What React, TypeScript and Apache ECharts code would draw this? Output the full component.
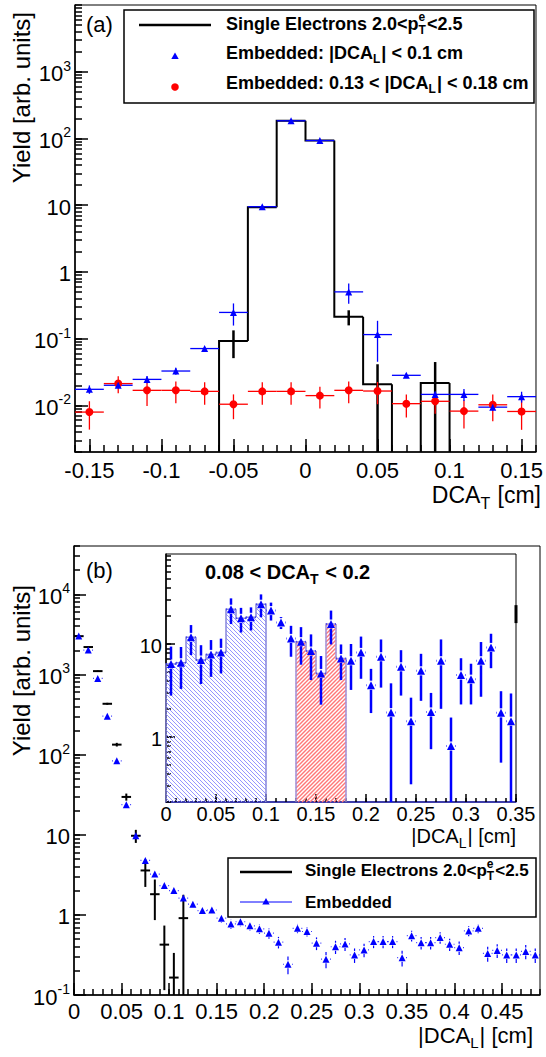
import React, { useEffect, useRef } from "react";
import * as echarts from "echarts";

const FONT = "'Liberation Sans', Arial, Helvetica, sans-serif";

// ---------------- Panel (a): DCA_T ----------------
const aBins = [-0.15, -0.13, -0.11, -0.09, -0.07, -0.05, -0.03, -0.01, 0.01, 0.03, 0.05, 0.07, 0.09, 0.11, 0.13, 0.15];
const aHalfWidth = 0.01;
const aSingle = [0, 0, 0, 0, 0, 0.092, 9.3, 184, 93, 0.212, 0.0207, 0, 0.0216, 0, 0, 0];
const aSingleErr = [0, 0, 0, 0, 0, 0.041, 0.35, 1.6, 1.2, 0.054, 0.0206, 0, 0.023, 0, 0, 0];
const aEmbIn = [0.0174, 0.02, 0.0245, 0.0327, 0.071, 0.247, 9.49, 184, 93, 0.502, 0.115, 0.0282, 0.0146, 0.0146, 0.0094, 0.0135];
const aEmbInErr = [0.0025, 0.002, 0.003, 0.004, 0.003, 0.09, 0.25, 1.5, 1.1, 0.17, 0.07, 0.002, 0.0015, 0.003, 0.001, 0.0025];
const aEmbOut = [0.00793, 0.0212, 0.0168, 0.0168, 0.0162, 0.0104, 0.0162, 0.0162, 0.014, 0.0168, 0.0164, 0.0106, 0.0115, 0.0082, 0.0102, 0.0081];
const aEmbOutErr = [0.0036, 0.006, 0.007, 0.006, 0.006, 0.0042, 0.006, 0.006, 0.005, 0.006, 0.006, 0.004, 0.004, 0.0037, 0.0044, 0.0038];
const aXTicks = [-0.15, -0.1, -0.05, 0, 0.05, 0.1, 0.15];
const aYTicks = [0.01, 0.1, 1, 10, 100, 1000];
const aXRange = [-0.16, 0.16];
const aYRange = [0.002, 10000];

// ---------------- Panel (b): |DCA_L| ----------------
const bBins = [0.005, 0.015, 0.025, 0.035, 0.045, 0.055, 0.065, 0.075, 0.085, 0.095, 0.105, 0.115, 0.125, 0.135, 0.145, 0.155, 0.165, 0.175, 0.185, 0.195, 0.205, 0.215, 0.225, 0.235, 0.245, 0.255, 0.265, 0.275, 0.285, 0.295, 0.305, 0.315, 0.325, 0.335, 0.345, 0.355, 0.365, 0.375, 0.385, 0.395, 0.405, 0.415, 0.425, 0.435, 0.445, 0.455, 0.465, 0.475, 0.485];
const bHalfWidth = 0.005;
const bEmbedded = [3010, 2014, 891, 301, 83.4, 23.7, 9.7, 4.77, 3.23, 2.32, 2.01, 1.62, 1.36, 1.13, 1.15, 0.91, 0.77, 0.82, 0.73, 0.67, 0.59, 0.456, 0.242, 0.68, 0.62, 0.443, 0.28, 0.4, 0.434, 0.316, 0.365, 0.464, 0.464, 0.464, 0.292, 0.55, 0.45, 0.45, 0.52, 0.43, 0.39, 0.63, 0.68, 0.33, 0.36, 0.316, 0.316, 0.35, 0.316];
const bEmbeddedErr = [40, 30, 18, 8, 3, 1.2, 0.5, 0.3, 0.22, 0.2, 0.18, 0.16, 0.14, 0.12, 0.12, 0.11, 0.1, 0.1, 0.09, 0.09, 0.085, 0.075, 0.06, 0.09, 0.085, 0.08, 0.065, 0.075, 0.08, 0.065, 0.07, 0.08, 0.08, 0.08, 0.065, 0.085, 0.08, 0.08, 0.085, 0.075, 0.075, 0.09, 0.09, 0.07, 0.07, 0.065, 0.065, 0.07, 0.065];
const bSingleBins = [0.005, 0.015, 0.025, 0.035, 0.045, 0.055, 0.065, 0.075, 0.085, 0.095, 0.105, 0.115];
const bSingle = [3000, 2195, 1099, 430, 133, 29.6, 9.7, 3.58, 1.81, 0.425, 0.165, 0.91];
const bSingleErr = [35, 30, 20, 12, 7, 3, 1.8, 1.35, 0.95, 0.31, 0.17, 0.87];
const bXTicks = [0, 0.05, 0.1, 0.15, 0.2, 0.25, 0.3, 0.35, 0.4, 0.45];
const bYTicks = [0.1, 1, 10, 100, 1000, 10000];
const bXRange = [0, 0.49];
const bYRange = [0.1, 40000];

// ---------------- Inset: 0.08 < DCA_T < 0.2 ----------------
const insetBins = [0.005, 0.015, 0.025, 0.035, 0.045, 0.055, 0.065, 0.075, 0.085, 0.095, 0.105, 0.115, 0.125, 0.135, 0.145, 0.155, 0.165, 0.175, 0.185, 0.195, 0.205, 0.215, 0.225, 0.235, 0.245, 0.255, 0.265, 0.275, 0.285, 0.295, 0.305, 0.315, 0.325, 0.335, 0.345];
const insetHalfWidth = 0.005;
const insetEmbedded = [6.09, 6.29, 11.8, 6.72, 7.74, 8.13, 23.7, 18.9, 19.4, 26.8, 22.9, 17.0, 11.5, 10.6, 8.4, 4.83, 16.4, 7.0, 6.61, 8.13, 3.61, 7.3, 1.83, 5.69, 1.48, 5.15, 1.86, 6.61, 0.8, 4.64, 4.19, 6.61, 9.2, 1.82, 1.48];
const insetEmbeddedErr = [3.3, 3.0, 4.2, 3.0, 3.3, 3.3, 7.3, 5.6, 5.4, 7.4, 5.0, 2.5, 4.2, 4.6, 4.3, 2.6, 6.5, 2.9, 3.4, 3.9, 1.8, 3.9, 1.95, 2.9, 1.17, 2.7, 1.12, 4.6, 0.82, 2.4, 1.95, 3.9, 3.7, 1.29, 1.46];
const insetBlueRange = [0, 0.1];
const insetRedRange = [0.13, 0.18];
const insetEdgeX = [0.35];
const insetEdgeY = [21.5];
const insetEdgeErr = [4.7];
const insetXTicks = [0, 0.05, 0.1, 0.15, 0.2, 0.25, 0.3, 0.35];
const insetYTicks = [1, 10];
const insetXRange = [0, 0.35];
const insetYRange = [0.2, 93];

// ---------------- helpers ----------------
function linMinor(min: number, max: number, step: number) {
  const out: number[] = [];
  const n = Math.round((max - min) / step);
  for (let k = 0; k <= n; k++) out.push(Math.round((min + k * step) * 1e6) / 1e6);
  return out;
}
function logMinor(min: number, max: number) {
  const out: number[] = [];
  for (let e = Math.floor(Math.log10(min)); e <= Math.ceil(Math.log10(max)); e++) {
    for (let m = 1; m <= 9; m++) {
      const v = parseFloat((m * Math.pow(10, e)).toPrecision(6));
      if (v >= min * 0.9999 && v <= max * 1.0001) out.push(v);
    }
  }
  return out;
}
const fmtLin = (v: number) => {
  const r = Math.round(v * 1000) / 1000;
  return r === 0 ? "0" : String(r);
};
const fmtLog = (v: number) => {
  const e = Math.round(Math.log10(v));
  if (e === 0) return "{m|1}";
  if (e === 1) return "{m|10}";
  return `{m|10}{s|${e}}`;
};

let mctx: CanvasRenderingContext2D | null = null;
function measure(t: string, size: number, bold: boolean) {
  if (!mctx) mctx = document.createElement("canvas").getContext("2d");
  mctx!.font = `${bold ? "bold " : ""}${size}px ${FONT}`;
  return mctx!.measureText(t).width;
}
function txt(x: number, y: number, text: string, size: number, bold: boolean) {
  return {
    type: "text",
    x,
    y,
    silent: true,
    style: {
      text,
      fontSize: size,
      fontFamily: FONT,
      fontWeight: bold ? "bold" : "normal",
      fill: "#000",
      align: "left",
      verticalAlign: "middle",
      textAlign: "left",
      textVerticalAlign: "middle",
    },
  };
}
type Seg = { t?: string; sub?: string; sup?: string };
function run(x: number, y: number, segs: Seg[], size: number, bold: boolean, align: "left" | "right" = "left") {
  const sm = Math.round(size * 0.68);
  const w = segs.map((s) =>
    s.t !== undefined
      ? measure(s.t, size, bold)
      : Math.max(s.sub ? measure(s.sub, sm, bold) : 0, s.sup ? measure(s.sup, sm, bold) : 0) + 1
  );
  const total = w.reduce((a, b) => a + b, 0);
  let cx = align === "right" ? x - total : x;
  const els: any[] = [];
  segs.forEach((s, k) => {
    if (s.t !== undefined) els.push(txt(cx, y, s.t, size, bold));
    else {
      if (s.sup) els.push(txt(cx, y - size * 0.37, s.sup, sm, bold));
      if (s.sub) els.push(txt(cx, y + size * 0.36, s.sub, sm, bold));
    }
    cx += w[k];
  });
  return els;
}
const lineEl = (x1: number, y1: number, x2: number, y2: number, stroke: string, lw: number) => ({
  type: "line",
  shape: { x1, y1, x2, y2 },
  style: { stroke, lineWidth: lw, fill: "none" },
});

function xAxes(grid: number, range: number[], major: number[], minor: number[], size: number, margin: number, majLen: number, minLen: number, lineColor = "#000") {
  return [
    {
      type: "value", gridIndex: grid, min: range[0], max: range[1], position: "bottom",
      axisLine: { show: true, onZero: false, lineStyle: { color: lineColor, width: 1.5 } },
      axisTick: { show: true, inside: true, length: majLen, customValues: major, lineStyle: { color: "#000", width: 1.5 } },
      axisLabel: { show: true, customValues: major, interval: 0, margin, formatter: fmtLin, color: "#000", fontSize: size, fontFamily: FONT, hideOverlap: false },
      splitLine: { show: false },
    },
    {
      type: "value", gridIndex: grid, min: range[0], max: range[1], position: "bottom",
      axisLine: { show: false, onZero: false },
      axisTick: { show: true, inside: true, length: minLen, customValues: minor, lineStyle: { color: "#000", width: 1.5 } },
      axisLabel: { show: false },
      splitLine: { show: false },
    },
  ];
}
function yAxes(grid: number, range: number[], major: number[], size: number, supSize: number, majLen: number, minLen: number) {
  return [
    {
      type: "log", logBase: 10, gridIndex: grid, min: range[0], max: range[1], position: "left",
      axisLine: { show: true, onZero: false, lineStyle: { color: "#000", width: 1.5 } },
      axisTick: { show: true, inside: true, length: majLen, customValues: major, lineStyle: { color: "#000", width: 1.5 } },
      axisLabel: {
        show: true, customValues: major, interval: 0, margin: 4, formatter: fmtLog, hideOverlap: false,
        rich: {
          m: { fontSize: size, fontFamily: FONT, color: "#000", lineHeight: size + 4, verticalAlign: "bottom" },
          s: { fontSize: supSize, fontFamily: FONT, color: "#000", lineHeight: supSize, verticalAlign: "top" },
        },
      },
      splitLine: { show: false },
    },
    {
      type: "log", logBase: 10, gridIndex: grid, min: range[0], max: range[1], position: "left",
      axisLine: { show: false, onZero: false },
      axisTick: { show: true, inside: true, length: minLen, customValues: logMinor(range[0], range[1]), lineStyle: { color: "#000", width: 1.5 } },
      axisLabel: { show: false },
      splitLine: { show: false },
    },
  ];
}

function crossSeries(o: { axis: number; xs: number[]; ys: number[]; errs: number[]; half: number; color: string; hw: number; vw: number; gap: number; yMin: number }) {
  return {
    type: "custom",
    xAxisIndex: o.axis,
    yAxisIndex: o.axis,
    silent: true,
    itemStyle: { color: o.color },
    data: o.xs.map((x, i) => [x, o.ys[i] > 0 ? o.ys[i] : o.yMin]),
    renderItem: (params: any, api: any) => {
      const i = params.dataIndex;
      const y = o.ys[i];
      if (!(y > 0)) return null;
      const x = o.xs[i];
      const e = o.errs[i];
      const cs = params.coordSys;
      const top = cs.y;
      const bot = cs.y + cs.height;
      const cl = (p: number) => Math.max(top, Math.min(bot, p));
      const c = api.coord([x, y]);
      const ch: any[] = [];
      if (o.half > 0) {
        const l = api.coord([x - o.half, y])[0];
        const r = api.coord([x + o.half, y])[0];
        if (o.gap > 0) {
          if (c[0] - o.gap > l) ch.push(lineEl(l, c[1], c[0] - o.gap, c[1], o.color, o.hw));
          if (r > c[0] + o.gap) ch.push(lineEl(c[0] + o.gap, c[1], r, c[1], o.color, o.hw));
        } else ch.push(lineEl(l, c[1], r, c[1], o.color, o.hw));
      }
      if (e > 0) {
        const yt = cl(api.coord([x, y + e])[1]);
        const yb = y - e > 0 ? cl(api.coord([x, y - e])[1]) : bot;
        if (o.gap > 0) {
          if (c[1] - o.gap > yt) ch.push(lineEl(c[0], yt, c[0], c[1] - o.gap, o.color, o.vw));
          if (yb > c[1] + o.gap) ch.push(lineEl(c[0], c[1] + o.gap, c[0], yb, o.color, o.vw));
        } else ch.push(lineEl(c[0], yt, c[0], yb, o.color, o.vw));
      }
      return { type: "group", children: ch };
    },
  };
}
function markers(axis: number, xs: number[], ys: number[], symbol: string, size: number, color: string) {
  return {
    type: "scatter",
    xAxisIndex: axis,
    yAxisIndex: axis,
    silent: true,
    symbol,
    symbolSize: size,
    itemStyle: { color, opacity: 1 },
    data: xs.map((x, i) => [x, ys[i]]).filter((d) => d[1] > 0),
  };
}

// hatched filled histogram restricted to a range of the inset
function hatchSeries(range: number[], dir: 1 | -1, hatchColor: string, hatchWidth: number, outline: string) {
  const inR = (x: number) => x > range[0] && x < range[1];
  return {
    type: "custom",
    xAxisIndex: 4,
    yAxisIndex: 4,
    silent: true,
    z: 1,
    itemStyle: { color: hatchColor },
    data: insetBins.map((x, i) => [x, insetEmbedded[i]]),
    renderItem: (params: any, api: any) => {
      const i = params.dataIndex;
      const x = insetBins[i];
      if (!inR(x)) return null;
      const cs = params.coordSys;
      const bot = cs.y + cs.height;
      const xl = api.coord([x - insetHalfWidth, 1])[0];
      const xr = api.coord([x + insetHalfWidth, 1])[0];
      const yt = api.coord([x, insetEmbedded[i]])[1];
      const ch: any[] = [];
      const sp = 4;
      if (dir === 1) {
        const cMin = yt - xr, cMax = bot - xl;
        for (let c = Math.ceil(cMin / sp) * sp; c <= cMax; c += sp) {
          const xa = Math.max(xl, yt - c), xb = Math.min(xr, bot - c);
          if (xb > xa) ch.push(lineEl(xa, xa + c, xb, xb + c, hatchColor, hatchWidth));
        }
      } else {
        const cMin = yt + xl, cMax = bot + xr;
        for (let c = Math.ceil(cMin / sp) * sp; c <= cMax; c += sp) {
          const xa = Math.max(xl, c - bot), xb = Math.min(xr, c - yt);
          if (xb > xa) ch.push(lineEl(xa, c - xa, xb, c - xb, hatchColor, hatchWidth));
        }
      }
      const prevIn = i > 0 && inR(insetBins[i - 1]);
      const nextIn = i < insetBins.length - 1 && inR(insetBins[i + 1]);
      const yPrev = prevIn ? api.coord([x, insetEmbedded[i - 1]])[1] : bot;
      const pts = [[xl, yPrev], [xl, yt], [xr, yt]];
      if (!nextIn) pts.push([xr, bot]);
      ch.push({ type: "polyline", shape: { points: pts }, style: { stroke: outline, lineWidth: 1.5, fill: "none" } });
      return { type: "group", children: ch };
    },
  };
}

function buildOption() {
  const histA = {
    type: "custom",
    xAxisIndex: 0,
    yAxisIndex: 0,
    silent: true,
    itemStyle: { color: "#000" },
    data: aBins.map((x, i) => [x, aSingle[i] > 0 ? aSingle[i] : aYRange[0]]),
    renderItem: (params: any, api: any) => {
      const i = params.dataIndex;
      const x = aBins[i];
      const v = aSingle[i];
      const pv = i > 0 ? aSingle[i - 1] : 0;
      const cs = params.coordSys;
      const bot = cs.y + cs.height;
      const py = (val: number) => (val > 0 ? api.coord([x, val])[1] : bot);
      const xl = api.coord([x - aHalfWidth, 1])[0];
      const xr = api.coord([x + aHalfWidth, 1])[0];
      let pts: number[][] | null = null;
      if (v > 0) {
        pts = [[xl, py(pv)], [xl, py(v)], [xr, py(v)]];
        if (i === aBins.length - 1) pts.push([xr, bot]);
      } else if (pv > 0) pts = [[xl, py(pv)], [xl, bot]];
      if (!pts) return null;
      return { type: "polyline", shape: { points: pts }, style: { stroke: "#000", lineWidth: 2, fill: "none" } };
    },
  };

  const series: any[] = [
    histA,
    crossSeries({ axis: 0, xs: aBins, ys: aSingle, errs: aSingleErr, half: 0, color: "#000", hw: 2.5, vw: 2.5, gap: 0, yMin: aYRange[0] }),
    crossSeries({ axis: 0, xs: aBins, ys: aEmbOut, errs: aEmbOutErr, half: aHalfWidth, color: "#ff0000", hw: 1.3, vw: 1.3, gap: 0, yMin: aYRange[0] }),
    markers(0, aBins, aEmbOut, "circle", 8, "#ff0000"),
    crossSeries({ axis: 0, xs: aBins, ys: aEmbIn, errs: aEmbInErr, half: aHalfWidth, color: "#0000ff", hw: 1.3, vw: 1.3, gap: 0, yMin: aYRange[0] }),
    markers(0, aBins, aEmbIn, "triangle", 7, "#0000ff"),

    crossSeries({ axis: 2, xs: bBins, ys: bEmbedded, errs: bEmbeddedErr, half: bHalfWidth, color: "#0000ff", hw: 1.2, vw: 1.2, gap: 4, yMin: bYRange[0] }),
    markers(2, bBins, bEmbedded, "triangle", 7, "#0000ff"),
    crossSeries({ axis: 2, xs: bSingleBins, ys: bSingle, errs: bSingleErr, half: bHalfWidth, color: "#000", hw: 2, vw: 2, gap: 0, yMin: bYRange[0] }),

    hatchSeries(insetBlueRange, 1, "#9696ff", 1, "#8686dc"),
    hatchSeries(insetRedRange, -1, "#ff7878", 1.4, "#9e8ed6"),
    crossSeries({ axis: 4, xs: insetBins, ys: insetEmbedded, errs: insetEmbeddedErr, half: insetHalfWidth, color: "#0000ff", hw: 2, vw: 2.5, gap: 4.5, yMin: insetYRange[0] }),
    markers(4, insetBins, insetEmbedded, "triangle", 8, "#0000ff"),
    crossSeries({ axis: 4, xs: insetEdgeX, ys: insetEdgeY, errs: insetEdgeErr, half: 0, color: "#000", hw: 3, vw: 3, gap: 0, yMin: insetYRange[0] }),
  ];

  const elements: any[] = [];
  const yTitle = (y: number) => ({
    type: "text", x: 21, y, rotation: Math.PI / 2, silent: true,
    style: { text: "Yield [arb. units]", fontSize: 24, fontFamily: FONT, fill: "#000", align: "right", verticalAlign: "middle", textAlign: "right", textVerticalAlign: "middle" },
  });
  elements.push(yTitle(12), yTitle(585));
  elements.push(...run(541, 495, [{ t: "DCA" }, { sub: "T" }, { t: " [cm]" }], 23, false, "right"));
  elements.push(...run(533, 1035, [{ t: "|DCA" }, { sub: "L" }, { t: "| [cm]" }], 22, false, "right"));
  elements.push(...run(516, 836, [{ t: "|DCA" }, { sub: "L" }, { t: "| [cm]" }], 20, false, "right"));
  elements.push(txt(86, 24, "(a)", 22, false));
  elements.push(txt(86, 570, "(b)", 22, false));
  elements.push(...run(205, 572, [{ t: "0.08 < DCA" }, { sub: "T" }, { t: " < 0.2" }], 20, true));
  // legend (a)
  elements.push({ type: "rect", shape: { x: 124, y: 10, width: 410, height: 93 }, style: { fill: "#fff", stroke: "#000", lineWidth: 1.5 }, silent: true });
  elements.push({ type: "line", shape: { x1: 139, y1: 25, x2: 211, y2: 25 }, style: { stroke: "#000", lineWidth: 2.5 }, silent: true });
  elements.push({ type: "polygon", shape: { points: [[175, 52.5], [171.3, 59], [178.7, 59]] }, style: { fill: "#0000ff" }, silent: true });
  elements.push({ type: "circle", shape: { cx: 175, cy: 87, r: 3.8 }, style: { fill: "#ff0000" }, silent: true });
  elements.push(...run(226, 24, [{ t: "Single Electrons 2.0<p" }, { sub: "T", sup: "e" }, { t: "<2.5" }], 18, true));
  elements.push(...run(226, 53, [{ t: "Embedded: |DCA" }, { sub: "L" }, { t: "| < 0.1 cm" }], 18, true));
  elements.push(...run(226, 83, [{ t: "Embedded: 0.13 < |DCA" }, { sub: "L" }, { t: "| < 0.18 cm" }], 18, true));
  // legend (b)
  elements.push({ type: "rect", shape: { x: 228, y: 858, width: 308, height: 59 }, style: { fill: "#fff", stroke: "#000", lineWidth: 1.5 }, silent: true });
  elements.push({ type: "line", shape: { x1: 240, y1: 872, x2: 292, y2: 872 }, style: { stroke: "#000", lineWidth: 2.5 }, silent: true });
  elements.push({ type: "line", shape: { x1: 240, y1: 902, x2: 292, y2: 902 }, style: { stroke: "#0000ff", lineWidth: 1 }, silent: true });
  elements.push({ type: "polygon", shape: { points: [[266, 898], [262.3, 904.5], [269.7, 904.5]] }, style: { fill: "#0000ff" }, silent: true });
  elements.push(...run(305, 870, [{ t: "Single Electrons 2.0<p" }, { sub: "T", sup: "e" }, { t: "<2.5" }], 17, true));
  elements.push(txt(305, 902, "Embedded", 17, true));

  return {
    animation: false,
    backgroundColor: "#fff",
    grid: [
      { left: 75, top: 5, width: 466, height: 447, show: true, borderColor: "#000", borderWidth: 1, containLabel: false },
      { left: 74, top: 546, width: 466, height: 449, show: true, borderColor: "#000", borderWidth: 1, containLabel: false },
      { left: 166, top: 554, width: 350, height: 248, show: true, borderColor: "#000", borderWidth: 1, backgroundColor: "#fff", containLabel: false },
    ],
    xAxis: [
      ...xAxes(0, aXRange, aXTicks, linMinor(aXRange[0], aXRange[1], 0.01), 22, 7, 13, 7),
      ...xAxes(1, bXRange, bXTicks, linMinor(bXRange[0], bXRange[1], 0.01), 22, 5, 12, 6),
      ...xAxes(2, insetXRange, insetXTicks, linMinor(insetXRange[0], insetXRange[1], 0.01), 20, 2, 8, 4, "#2828b8"),
    ],
    yAxis: [
      ...yAxes(0, aYRange, aYTicks, 22, 14, 13, 7),
      ...yAxes(1, bYRange, bYTicks, 22, 14, 12, 6),
      ...yAxes(2, insetYRange, insetYTicks, 20, 13, 9, 5),
    ],
    series,
    graphic: { elements },
  };
}

export default function App() {
  const ref = useRef<HTMLDivElement>(null);
  useEffect(() => {
    const chart = echarts.init(ref.current!, null, { renderer: "svg" });
    chart.setOption(buildOption() as any);
    return () => chart.dispose();
  }, []);
  return <div ref={ref} style={{ position: "fixed", left: 0, top: 0, width: 546, height: 1057, background: "#fff" }} />;
}
